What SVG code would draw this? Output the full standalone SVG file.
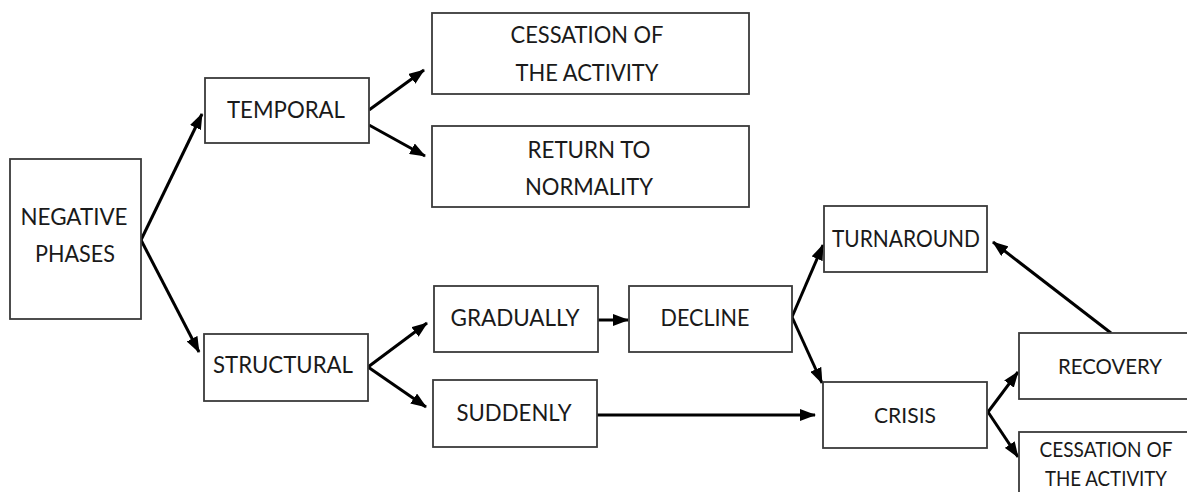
<svg xmlns="http://www.w3.org/2000/svg" width="1187" height="492" viewBox="0 0 1187 492">
  <style>
    .box { fill: #ffffff; stroke: #3a3a3a; stroke-width: 1.8; }
    .lbl { font-family: Lato, "Liberation Sans", sans-serif; font-size: 24px; fill: #1a1a1a; text-anchor: middle; }
    .sm { font-size: 21px; }
    .edge { stroke: #000000; stroke-width: 3; fill: none; marker-end: url(#arrow); }
  </style>
  <defs>
    <marker id="arrow" viewBox="0 0 16 12" refX="15" refY="6" markerWidth="16" markerHeight="12" markerUnits="userSpaceOnUse" orient="auto">
      <path d="M0,0 L16,6 L0,12 Z" fill="#000000"/>
    </marker>
  </defs>

  <rect width="1187" height="492" fill="#ffffff"/>

  <g id="connectors">
    <line class="edge" x1="141" y1="240" x2="202" y2="114"/>
    <line class="edge" x1="141" y1="240" x2="199" y2="352"/>
    <line class="edge" x1="369" y1="110" x2="424" y2="70"/>
    <line class="edge" x1="369" y1="125" x2="425" y2="156"/>
    <line class="edge" x1="368" y1="367" x2="427" y2="323"/>
    <line class="edge" x1="368" y1="367" x2="426" y2="407"/>
    <line class="edge" x1="598" y1="320" x2="628" y2="320"/>
    <line class="edge" x1="596" y1="415" x2="815" y2="415"/>
    <line class="edge" x1="792" y1="317" x2="823" y2="245"/>
    <line class="edge" x1="792" y1="317" x2="822" y2="383"/>
    <line class="edge" x1="988" y1="412" x2="1018" y2="372"/>
    <line class="edge" x1="988" y1="412" x2="1018" y2="457"/>
    <line class="edge" x1="1111" y1="333" x2="993" y2="242"/>
  </g>

  <g id="negative-phases">
    <rect class="box" x="10" y="159" width="131" height="160"/>
    <text class="lbl" x="74" y="225" textLength="107" lengthAdjust="spacingAndGlyphs">NEGATIVE</text>
    <text class="lbl" x="75" y="262" textLength="80" lengthAdjust="spacingAndGlyphs">PHASES</text>
  </g>
  <g id="temporal">
    <rect class="box" x="205" y="78" width="164" height="65"/>
    <text class="lbl" x="286" y="118" textLength="118" lengthAdjust="spacingAndGlyphs">TEMPORAL</text>
  </g>
  <g id="structural">
    <rect class="box" x="204" y="334" width="164" height="67"/>
    <text class="lbl" x="283" y="373" textLength="140" lengthAdjust="spacingAndGlyphs">STRUCTURAL</text>
  </g>
  <g id="cessation-top">
    <rect class="box" x="432" y="13" width="317" height="81"/>
    <text class="lbl" x="587" y="43" textLength="153" lengthAdjust="spacingAndGlyphs">CESSATION OF</text>
    <text class="lbl" x="587" y="81" textLength="143" lengthAdjust="spacingAndGlyphs">THE ACTIVITY</text>
  </g>
  <g id="return-to-normality">
    <rect class="box" x="432" y="126" width="317" height="81"/>
    <text class="lbl" x="589" y="158" textLength="123" lengthAdjust="spacingAndGlyphs">RETURN TO</text>
    <text class="lbl" x="589" y="195" textLength="128" lengthAdjust="spacingAndGlyphs">NORMALITY</text>
  </g>
  <g id="gradually">
    <rect class="box" x="434" y="286" width="164" height="66"/>
    <text class="lbl" x="515" y="326" textLength="129" lengthAdjust="spacingAndGlyphs">GRADUALLY</text>
  </g>
  <g id="decline">
    <rect class="box" x="629" y="286" width="163" height="66"/>
    <text class="lbl" x="705" y="326" textLength="89" lengthAdjust="spacingAndGlyphs">DECLINE</text>
  </g>
  <g id="suddenly">
    <rect class="box" x="433" y="380" width="164" height="67"/>
    <text class="lbl" x="514" y="421" textLength="115" lengthAdjust="spacingAndGlyphs">SUDDENLY</text>
  </g>
  <g id="turnaround">
    <rect class="box" x="824" y="206" width="163" height="66"/>
    <text class="lbl" x="906" y="247" textLength="148" lengthAdjust="spacingAndGlyphs">TURNAROUND</text>
  </g>
  <g id="crisis">
    <rect class="box" x="823" y="382" width="164" height="66"/>
    <text class="lbl sm" x="905" y="423" textLength="62" lengthAdjust="spacingAndGlyphs">CRISIS</text>
  </g>
  <g id="recovery">
    <rect class="box" x="1019" y="333" width="182" height="66"/>
    <text class="lbl sm" x="1110" y="374" textLength="104" lengthAdjust="spacingAndGlyphs">RECOVERY</text>
  </g>
  <g id="cessation-bottom">
    <rect class="box" x="1019" y="432" width="182" height="81"/>
    <text class="lbl sm" x="1106" y="457" textLength="133" lengthAdjust="spacingAndGlyphs">CESSATION OF</text>
    <text class="lbl sm" x="1106" y="486" textLength="122" lengthAdjust="spacingAndGlyphs">THE ACTIVITY</text>
  </g>
</svg>
